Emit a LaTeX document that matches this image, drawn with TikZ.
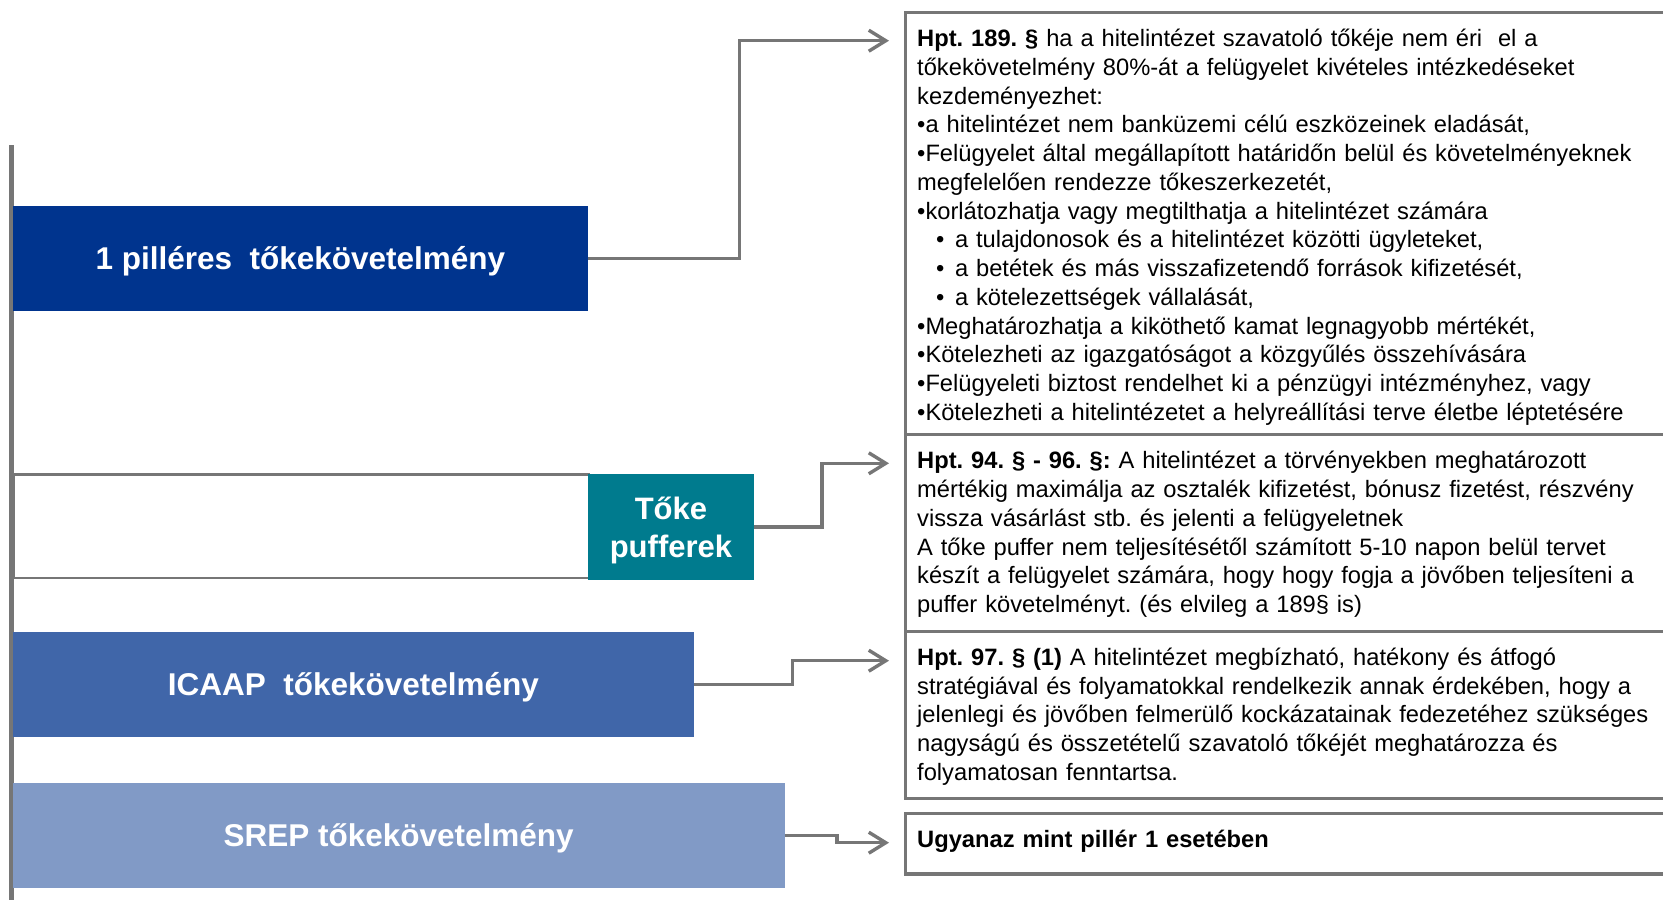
\documentclass[tikz,border=0pt]{standalone}
\usepackage{fontspec}
\setmainfont{Liberation Sans}
\usetikzlibrary{arrows.meta}
\frenchspacing

\definecolor{linegray}{RGB}{118,118,118}
\definecolor{pillarblue}{RGB}{0,52,142}
\definecolor{bufferteal}{RGB}{0,123,142}
\definecolor{icaapblue}{RGB}{64,102,169}
\definecolor{srepblue}{RGB}{129,154,198}

% indented second-level bullet
\newcommand\subbul{\hspace*{19pt}•\hspace*{10.5pt}}

\begin{document}
\begin{tikzpicture}[x=1pt,y=-1pt,
  bar/.style={rectangle, inner sep=0pt, anchor=north west, text=white,
    font=\fontsize{31.5}{36}\selectfont\bfseries, align=center},
  onerow/.style={text height=22.5pt, text depth=0pt},
  rulebox/.style={draw=linegray, line width=3.3pt, rectangle, inner sep=0pt,
    anchor=north west},
  bodytext/.style={anchor=north west, inner sep=0pt, text width=745pt,
    align=left, font=\fontsize{23.7}{28.75}\selectfont},
  conn/.style={draw=linegray, line width=3.4pt,
    -{Straight Barb[length=17pt,width=21pt]}},
]
\useasboundingbox (0,0) rectangle (1663,900);
\clip (0,0) rectangle (1663,900);

% vertical axis on the left
\coordinate (vtop) at (11.3,145);
\coordinate (vbot) at (11.3,900);
\draw[linegray, line width=4.5pt] (vtop) -- (vbot);

% capital requirement bars
\node[bar, onerow, fill=pillarblue, minimum width=575.5pt, minimum height=105pt]
  (b1) at (12.5,205.5) {1 pilléres\ \ tőkekövetelmény};
\node[rulebox, line width=2.2pt, fill=white,
  minimum width=575.5pt, minimum height=103.4pt] (bw) at (12.5,473.3) {};
\node[bar, fill=bufferteal, minimum width=165.5pt, minimum height=105.5pt]
  (tp) at (588,474) {};
\node[anchor=base, inner sep=0pt, text width=165pt, align=center, text=white,
  font=\fontsize{31}{37.3}\selectfont\bfseries, yshift=7pt]
  (tplabel) at (tp.center) {Tőke\\pufferek};
\node[bar, onerow, fill=icaapblue, minimum width=681.5pt, minimum height=105pt]
  (b3) at (12.5,631.7) {ICAAP\ \ tőkekövetelmény};
\node[bar, onerow, fill=srepblue, minimum width=772pt, minimum height=105.5pt]
  (b4) at (12.5,782.3) {SREP tőkekövetelmény};

% legal text frames
\node[rulebox, minimum width=776pt, minimum height=422.3pt] (t1) at (904,10.7) {};
\node[rulebox, minimum width=776pt, minimum height=197pt] (t2) at (904,433) {};
\node[rulebox, minimum width=776pt, minimum height=167pt] (t3) at (904,630) {};
\node[rulebox, minimum width=776pt, minimum height=60.5pt] (t4) at (904,811.7) {};

\node[bodytext] (x1) at (917,26.2) {\strut\textbf{Hpt. 189. §} ha a hitelintézet szavatoló tőkéje nem éri\ \ el a\\
tőkekövetelmény 80\%-át a felügyelet kivételes intézkedéseket\\
kezdeményezhet:\\
•a hitelintézet nem banküzemi célú eszközeinek eladását,\\
•Felügyelet által megállapított határidőn belül és követelményeknek\\
megfelelően rendezze tőkeszerkezetét,\\
•korlátozhatja vagy megtilthatja a hitelintézet számára\\
\subbul a tulajdonosok és a hitelintézet közötti ügyleteket,\\
\subbul a betétek és más visszafizetendő források kifizetését,\\
\subbul a kötelezettségek vállalását,\\
•Meghatározhatja a kiköthető kamat legnagyobb mértékét,\\
•Kötelezheti az igazgatóságot a közgyűlés összehívására\\
•Felügyeleti biztost rendelhet ki a pénzügyi intézményhez, vagy\\
•Kötelezheti a hitelintézetet a helyreállítási terve életbe léptetésére};

\node[bodytext] (x2) at (917,448.5) {\strut\textbf{Hpt. 94. § - 96. §:} A hitelintézet a törvényekben meghatározott\\
mértékig maximálja az osztalék kifizetést, bónusz fizetést, részvény\\
vissza vásárlást stb. és jelenti a felügyeletnek\\
A tőke puffer nem teljesítésétől számított 5-10 napon belül tervet\\
készít a felügyelet számára, hogy hogy fogja a jövőben teljesíteni a\\
puffer követelményt. (és elvileg a 189§ is)};

\node[bodytext] (x3) at (917,645) {\strut\textbf{Hpt. 97. § (1)} A hitelintézet megbízható, hatékony és átfogó\\
stratégiával és folyamatokkal rendelkezik annak érdekében, hogy a\\
jelenlegi és jövőben felmerülő kockázatainak fedezetéhez szükséges\\
nagyságú és összetételű szavatoló tőkéjét meghatározza és\\
folyamatosan fenntartsa.};

\node[bodytext] (x4) at (917,826.7) {\strut\textbf{Ugyanaz mint pillér 1 esetében}};

% arrow ends just left of each frame
\coordinate (a1) at (889,40.7);
\coordinate (a2) at (889,463.3);
\coordinate (a3) at (889,660.7);
\coordinate (a4) at (889,842.7);

\draw[conn] (b1.east) -- ++(151,0) |- (a1);
\draw[conn] (tp.east) -- ++(68,0) |- (a2);
\draw[conn] (b3.east) -- ++(98,0) |- (a3);
\draw[conn] (b4.east) -- ++(52,0) |- (a4);
\end{tikzpicture}
\end{document}
